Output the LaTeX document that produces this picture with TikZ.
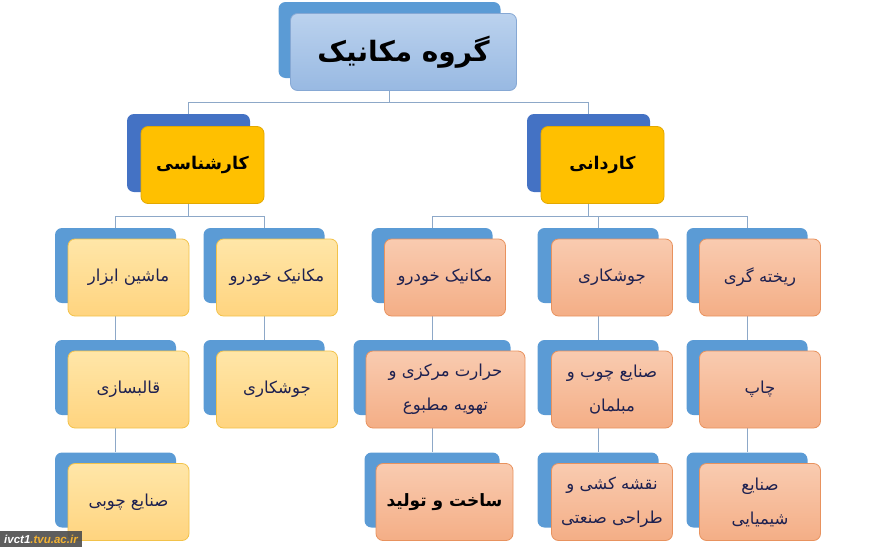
\documentclass[tikz,border=0pt]{standalone}
\usepackage{fontspec}
\newfontfamily\farsi[Script=Arabic]{DejaVu Sans}
\newfontfamily\wmfont{Liberation Sans}
\TeXXeTstate=1
\usetikzlibrary{positioning,backgrounds,calc}

\definecolor{backblue}{HTML}{5B9BD5}
\definecolor{deepblue}{HTML}{4472C4}
\definecolor{linegray}{HTML}{8DA8C8}
\definecolor{inknavy}{HTML}{1E2150}
\definecolor{wmgold}{HTML}{F2B233}

\tikzset{
  backbox/.style={rectangle, rounded corners=7pt, fill=backblue,
    minimum width=121pt, minimum height=75pt},
  frontbox/.style={rectangle, rounded corners=7pt, line width=0.8pt,
    minimum width=121pt, minimum height=77pt, align=center, text=inknavy,
    font=\farsi\fontsize{16.5}{34}\selectfont},
  titlebox/.style={frontbox, draw=titleedge, top color=titletop, bottom color=titlebot,
    text=black, font=\farsi\bfseries\fontsize{28}{30}\selectfont},
  levelbox/.style={frontbox, draw=levedge, fill=levfill, text=black,
    font=\farsi\bfseries\fontsize{17.5}{22}\selectfont},
  kboxL/.style={frontbox, draw=ledge, top color=ltop, bottom color=lbot},
  kboxR/.style={frontbox, draw=redge, top color=rtop, bottom color=rbot},
  conn/.style={draw=linegray, line width=0.8pt}
}
\definecolor{titleedge}{HTML}{86A8D4}
\definecolor{titletop}{HTML}{BBD2EE}
\definecolor{titlebot}{HTML}{98B9E2}
\definecolor{levedge}{HTML}{E3A800}
\definecolor{levfill}{HTML}{FFC000}
\definecolor{ledge}{HTML}{F2C24A}
\definecolor{ltop}{HTML}{FFE6A8}
\definecolor{lbot}{HTML}{FFD47F}
\definecolor{redge}{HTML}{E8925E}
\definecolor{rtop}{HTML}{F9CBB0}
\definecolor{rbot}{HTML}{F4AE86}

\begin{document}
\begin{tikzpicture}[x=1pt,y=-1pt]
    \useasboundingbox (0,0) rectangle (875,557);

    % Title
    \node[backbox, minimum width=222pt, minimum height=76pt] (groupB) at (389.5,40) {};
    \node[titlebox, minimum width=226pt] (group) at ([shift={(14,12)}]groupB.center) {\beginR گروه مکانیک\endR};

    % Degrees
    \node[backbox, fill=deepblue, minimum width=123pt, minimum height=78pt] (kardaniB) at (588.5,153) {};
    \node[levelbox, minimum width=123pt] (kardani) at ([shift={(14,12)}]kardaniB.center) {\beginR کاردانی\endR};
    \node[backbox, fill=deepblue, minimum width=123pt, minimum height=78pt] (karshenasiB) at (188.5,153) {};
    \node[levelbox, minimum width=123pt] (karshenasi) at ([shift={(14,12)}]karshenasiB.center) {\beginR کارشناسی\endR};

    % Karshenasi branches
    \node[backbox] (toolB) at (115.5,265.5) {};
    \node[kboxL] (tool) at ([shift={(13,12)}]toolB.center) {\beginR ماشین ابزار\endR};
    \node[backbox] (moldB) at (115.5,377.5) {};
    \node[kboxL] (mold) at ([shift={(13,12)}]moldB.center) {\beginR قالبسازی\endR};
    \node[backbox] (woodB) at (115.5,490) {};
    \node[kboxL] (wood) at ([shift={(13,12)}]woodB.center) {\beginR صنایع چوبی\endR};

    \node[backbox] (autoLB) at (264,265.5) {};
    \node[kboxL] (autoL) at ([shift={(13,12)}]autoLB.center) {\beginR مکانیک خودرو\endR};
    \node[backbox] (weldLB) at (264,377.5) {};
    \node[kboxL] (weldL) at ([shift={(13,12)}]weldLB.center) {\beginR جوشکاری\endR};

    % Kardani branches
    \node[backbox] (autoRB) at (432,265.5) {};
    \node[kboxR] (autoR) at ([shift={(13,12)}]autoRB.center) {\beginR مکانیک خودرو\endR};
    \node[backbox, minimum width=157pt] (hvacB) at (432,377.5) {};
    \node[kboxR, minimum width=159pt] (hvac) at ([shift={(13.5,12)}]hvacB.center)
      {\beginR حرارت مرکزی و\endR\\\beginR تهویه مطبوع\endR};
    \node[backbox, minimum width=135pt] (prodB) at (432,490) {};
    \node[kboxR, minimum width=137pt, font=\farsi\bfseries\fontsize{17}{20}\selectfont, text=black] (prod)
      at ([shift={(12.5,12)}]prodB.center) {\beginR ساخت و تولید\endR};

    \node[backbox] (weldRB) at (598,265.5) {};
    \node[kboxR] (weldR) at ([shift={(14,12)}]weldRB.center) {\beginR جوشکاری\endR};
    \node[backbox] (furnB) at (598,377.5) {};
    \node[kboxR] (furn) at ([shift={(14,12)}]furnB.center)
      {\beginR صنایع چوب و\endR\\\beginR مبلمان\endR};
    \node[backbox] (draftB) at (598,490) {};
    \node[kboxR] (draft) at ([shift={(14,12)}]draftB.center)
      {\beginR نقشه کشی و\endR\\\beginR طراحی صنعتی\endR};

    \node[backbox] (castB) at (747,265.5) {};
    \node[kboxR] (cast) at ([shift={(13,12)}]castB.center) {\beginR ریخته گری\endR};
    \node[backbox] (printB) at (747,377.5) {};
    \node[kboxR] (print) at ([shift={(13,12)}]printB.center) {\beginR چاپ\endR};
    \node[backbox] (chemB) at (747,490) {};
    \node[kboxR] (chem) at ([shift={(13,12)}]chemB.center)
      {\beginR صنایع\endR\\\beginR شیمیایی\endR};

    % Connectors
    \begin{scope}[on background layer]
    \draw[conn] (groupB.south) -- ++(0,24) -| (kardaniB.north);
    \draw[conn] (groupB.south) -- ++(0,24) -| (karshenasiB.north);
    \draw[conn] (karshenasiB.south) -- ++(0,24) -| (toolB.north);
    \draw[conn] (karshenasiB.south) -- ++(0,24) -| (autoLB.north);
    \draw[conn] (kardaniB.south) -- ++(0,24) -| (autoRB.north);
    \draw[conn] (kardaniB.south) -- ++(0,24) -| (weldRB.north);
    \draw[conn] (kardaniB.south) -- ++(0,24) -| (castB.north);
    \draw[conn] (toolB.south) -- (moldB.north);
    \draw[conn] (moldB.south) -- (woodB.north);
    \draw[conn] (autoLB.south) -- (weldLB.north);
    \draw[conn] (autoRB.south) -- (hvacB.north);
    \draw[conn] (hvacB.south) -- (prodB.north);
    \draw[conn] (weldRB.south) -- (furnB.north);
    \draw[conn] (furnB.south) -- (draftB.north);
    \draw[conn] (castB.south) -- (printB.north);
    \draw[conn] (printB.south) -- (chemB.north);
    \end{scope}

    % Watermark
    \node[fill=black!70, fill opacity=0.9, text opacity=1, inner sep=0pt, minimum width=82pt, minimum height=16pt,
      font=\wmfont\bfseries\itshape\fontsize{11.5}{11.5}\selectfont] (wm) at (41,539)
      {\textcolor{white}{ivct1}\textcolor{wmgold}{.tvu.ac.ir}};
\end{tikzpicture}
\end{document}
